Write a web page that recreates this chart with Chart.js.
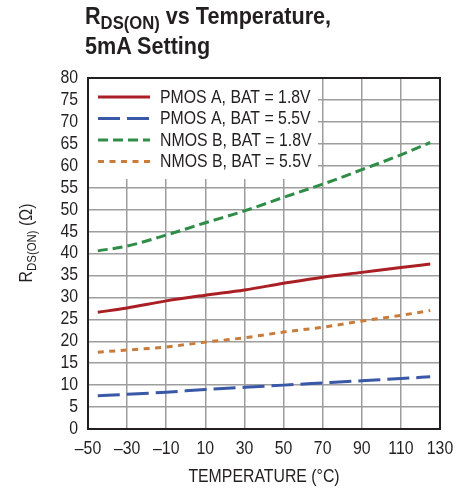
<!DOCTYPE html>
<html><head><meta charset="utf-8">
<script src="https://cdn.jsdelivr.net/npm/chart.js@4"></script>
<style>
html,body{margin:0;padding:0;background:#fff;}
#wrap{position:relative;width:469px;height:491px;overflow:hidden;}
#title{position:absolute;left:85px;top:2px;font-family:'Liberation Sans','Arial',sans-serif;font-weight:bold;font-size:24px;line-height:28px;color:#231f20;white-space:nowrap;transform:scaleX(0.9);transform-origin:0 0;}
#title .sub{font-size:18.5px;position:relative;top:5px;}
canvas{position:absolute;left:0;top:0;}
</style></head>
<body><div id="wrap"><canvas id="c" width="469" height="491" style="width:469px;height:491px"></canvas><div id="title">R<span class="sub">DS(ON)</span> vs Temperature,<br>5mA Setting</div></div>
<script>
const temps = [-45, -30, -10, 10, 30, 50, 70, 90, 110, 125];
const pmosA18 = [26.6, 27.6, 29.2, 30.5, 31.7, 33.2, 34.6, 35.7, 36.8, 37.6];
const pmosA55 = [7.6, 7.9, 8.4, 9.0, 9.5, 10.0, 10.5, 11.0, 11.5, 11.9];
const nmosB18 = [40.6, 41.7, 44.2, 47.0, 49.7, 52.8, 55.8, 59.1, 62.5, 65.3];
const nmosB55 = [17.5, 18.0, 18.7, 19.8, 20.8, 22.1, 23.2, 24.6, 25.9, 27.0];
const seriesLabels = ['PMOS A, BAT = 1.8V', 'PMOS A, BAT = 5.5V', 'NMOS B, BAT = 1.8V', 'NMOS B, BAT = 5.5V'];
const xTicks = [-50, -30, -10, 10, 30, 50, 70, 90, 110, 130];
const yTicks = [0, 5, 10, 15, 20, 25, 30, 35, 40, 45, 50, 55, 60, 65, 70, 75, 80];
const xTitle = 'TEMPERATURE (°C)';

const FONT = "'Liberation Sans',Arial,sans-serif";
const TXT = '#231f20';
const GRID = '#9d9d9d';
const SX = 0.88; // condensed look for canvas text

const _fillText = CanvasRenderingContext2D.prototype.fillText;
CanvasRenderingContext2D.prototype.fillText = function (t, x, y) {
  this.save();
  this.translate(x, y);
  this.scale(SX, 1);
  _fillText.call(this, t, 0, 0);
  this.restore();
};

const styles = [
  {color: '#a91f24', dash: []},
  {color: '#3a58a8', dash: [22, 7]},
  {color: '#2f8d47', dash: [10, 5]},
  {color: '#c97b3a', dash: [6, 5.5]}
];
const seriesValues = [pmosA18, pmosA55, nmosB18, nmosB55];

const datasets = seriesValues.map((vals, i) => ({
  label: seriesLabels[i],
  data: temps.map((t, j) => ({x: t, y: vals[j]})),
  borderColor: styles[i].color,
  borderDash: styles[i].dash,
  borderWidth: 3,
  borderCapStyle: 'butt',
  pointRadius: 0,
  fill: false,
  cubicInterpolationMode: 'monotone'
}));

const overlay = {
  id: 'overlay',
  afterDatasetsDraw(chart) {
    const ctx = chart.ctx;
    const a = chart.chartArea;
    ctx.save();
    // legend
    ctx.fillStyle = '#fff';
    ctx.fillRect(a.left, a.top, 230, 101);
    const rows = [97, 118.5, 140, 161.5];
    chart.data.datasets.forEach((ds, i) => {
      const y = rows[i];
      ctx.strokeStyle = ds.borderColor;
      ctx.lineWidth = 3;
      ctx.lineCap = 'butt';
      ctx.setLineDash(ds.borderDash);
      ctx.beginPath();
      ctx.moveTo(a.left + 10, y);
      ctx.lineTo(a.left + 62, y);
      ctx.stroke();
      ctx.setLineDash([]);
      ctx.fillStyle = TXT;
      ctx.font = '18px ' + FONT;
      ctx.textAlign = 'left';
      ctx.textBaseline = 'middle';
      ctx.fillText(ds.label, a.left + 72, y + 1);
    });
    // frame
    ctx.strokeStyle = '#231f20';
    ctx.lineWidth = 2;
    ctx.strokeRect(a.left, a.top, a.right - a.left, a.bottom - a.top);
    // y title
    ctx.translate(26, 243);
    ctx.rotate(-Math.PI / 2);
    ctx.fillStyle = TXT;
    ctx.textBaseline = 'alphabetic';
    ctx.textAlign = 'left';
    const f1 = '18px ' + FONT, f2 = '13px ' + FONT;
    ctx.font = f1; const w1 = ctx.measureText('R').width * SX; const w3 = ctx.measureText(' (Ω)').width * SX;
    ctx.font = f2; const w2 = ctx.measureText('DS(ON)').width * SX;
    let x = -(w1 + w2 + w3) / 2;
    ctx.font = f1; ctx.fillText('R', x, 6); x += w1;
    ctx.font = f2; ctx.fillText('DS(ON)', x, 10); x += w2;
    ctx.font = f1; ctx.fillText(' (Ω)', x, 6);
    ctx.restore();
  }
};

new Chart(document.getElementById('c'), {
  type: 'line',
  data: {datasets},
  options: {
    responsive: false,
    animation: false,
    layout: {padding: {left: 0, top: 78, right: 29, bottom: 0}},
    plugins: {legend: {display: false}, tooltip: {enabled: false}, title: {display: false}},
    scales: {
      x: {
        type: 'linear', min: -50, max: 130,
        afterBuildTicks: s => { s.ticks = xTicks.map(v => ({value: v})); },
        afterFit: s => { s.height = 62; },
        ticks: {
          callback: v => String(v).replace('-', '\u2013'),
          font: {family: FONT, size: 18}, color: TXT, padding: 9, maxRotation: 0, autoSkip: false
        },
        grid: {color: GRID, lineWidth: 1.5, drawTicks: false},
        border: {display: false},
        title: {display: true, text: xTitle, font: {family: FONT, size: 18}, color: TXT, padding: {top: 0, bottom: 3}}
      },
      y: {
        type: 'linear', min: 0, max: 80,
        afterBuildTicks: s => { s.ticks = yTicks.map(v => ({value: v})); },
        afterFit: s => { s.width = 88; },
        ticks: {font: {family: FONT, size: 18}, color: TXT, padding: 10, autoSkip: false},
        grid: {color: GRID, lineWidth: 1.5, drawTicks: false},
        border: {display: false}
      }
    }
  },
  plugins: [overlay]
});
</script>
</body></html>
